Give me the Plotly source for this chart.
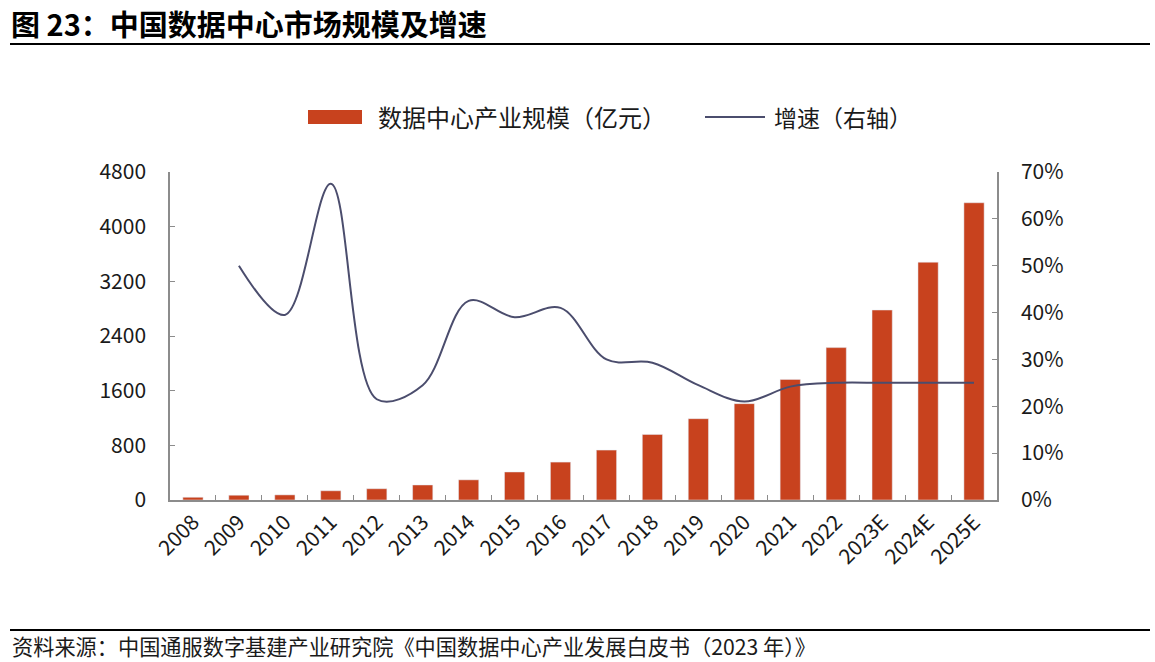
import plotly.graph_objects as go

years = ["2008", "2009", "2010", "2011", "2012", "2013", "2014", "2015", "2016",
         "2017", "2018", "2019", "2020", "2021", "2022", "2023E", "2024E", "2025E"]
market_size = [40, 70, 75, 135, 165, 220, 295, 410, 555,
               730, 960, 1190, 1410, 1765, 2230, 2780, 3480, 4350]
growth_years = years[1:]
growth = [0.50, 0.395, 0.675, 0.215, 0.245, 0.425, 0.39, 0.41,
          0.30, 0.293, 0.245, 0.21, 0.242, 0.25, 0.25, 0.25, 0.25]

left_ticks = [0, 800, 1600, 2400, 3200, 4000, 4800]
right_ticks = [0, 0.1, 0.2, 0.3, 0.4, 0.5, 0.6, 0.7]

title_text = "图 23：中国数据中心市场规模及增速"
legend_bar = "数据中心产业规模（亿元）"
legend_line = "增速（右轴）"
source_text = "资料来源：中国通服数字基建产业研究院《中国数据中心产业发展白皮书（2023 年）》"

BAR_COLOR = "#C8421E"
LINE_COLOR = "#4B4D6D"
AXIS_COLOR = "#8C8C8C"
TEXT_COLOR = "#1A1A1A"
CJK = "Noto Sans CJK SC"

W, H = 1155, 662
X0, X1, Y0, Y1 = 170, 997, 172, 500


def px(x):
    return (x - X0) / (X1 - X0)


def py(y):
    return (Y1 - y) / (Y1 - Y0)


fig = go.Figure()
fig.add_trace(go.Bar(x=years, y=market_size, marker_color=BAR_COLOR,
                     name=legend_bar, showlegend=False))
fig.add_trace(go.Scatter(x=growth_years, y=growth, yaxis="y2", mode="lines",
                         line=dict(color=LINE_COLOR, width=2, shape="spline", smoothing=1),
                         name=legend_line, showlegend=False))

fig.update_layout(
    width=W, height=H,
    margin=dict(l=X0, r=W - X1, t=Y0, b=H - Y1, autoexpand=False),
    paper_bgcolor="white", plot_bgcolor="white",
    bargap=0.56,
    font=dict(family=CJK, color=TEXT_COLOR, size=21),
    xaxis=dict(type="category", showline=True, linecolor=AXIS_COLOR, linewidth=1.5,
               ticks="inside", ticklen=5, tickcolor=AXIS_COLOR, tickson="boundaries",
               tickangle=-45, tickfont=dict(family=CJK, size=21, color=TEXT_COLOR),
               showgrid=False, zeroline=False),
    yaxis=dict(range=[0, 4800], tickvals=left_ticks, showline=True, linecolor=AXIS_COLOR,
               linewidth=1.5, ticks="inside", ticklen=5, tickcolor=AXIS_COLOR,
               showgrid=False, zeroline=False, ticklabelstandoff=18,
               tickfont=dict(family=CJK, size=21, color=TEXT_COLOR)),
    yaxis2=dict(range=[0, 0.7], tickvals=right_ticks, tickformat=".0%", overlaying="y",
                side="right", showline=True, linecolor=AXIS_COLOR, linewidth=1.5,
                ticks="inside", ticklen=5, tickcolor=AXIS_COLOR, showgrid=False,
                zeroline=False, ticklabelstandoff=18,
                tickfont=dict(family=CJK, size=21, color=TEXT_COLOR)),
    showlegend=False,
)

shapes = [
    dict(type="line", xref="paper", yref="paper", x0=px(10), x1=px(1150), y0=py(44), y1=py(44),
         line=dict(color="#000000", width=2)),
    dict(type="line", xref="paper", yref="paper", x0=px(10), x1=px(1150), y0=py(630), y1=py(630),
         line=dict(color="#000000", width=2)),
    dict(type="rect", xref="paper", yref="paper", x0=px(308), x1=px(362), y0=py(124), y1=py(110),
         fillcolor=BAR_COLOR, line=dict(width=0)),
    dict(type="line", xref="paper", yref="paper", x0=px(705), x1=px(765), y0=py(117), y1=py(117),
         line=dict(color=LINE_COLOR, width=2)),
]
annotations = [
    dict(text="<b>" + title_text + "</b>", xref="paper", yref="paper", x=px(10), y=py(23),
         xanchor="left", yanchor="middle", showarrow=False, borderpad=0,
         font=dict(family=CJK, size=29, color="#000000")),
    dict(text=legend_bar, xref="paper", yref="paper", x=px(376), y=py(117),
         xanchor="left", yanchor="middle", showarrow=False,
         font=dict(family=CJK, size=24, color=TEXT_COLOR)),
    dict(text=legend_line, xref="paper", yref="paper", x=px(772), y=py(117),
         xanchor="left", yanchor="middle", showarrow=False,
         font=dict(family=CJK, size=23, color=TEXT_COLOR)),
    dict(text=source_text, xref="paper", yref="paper", x=px(10), y=py(645),
         xanchor="left", yanchor="middle", showarrow=False,
         font=dict(family=CJK, size=21.2, color=TEXT_COLOR)),
]
fig.update_layout(shapes=shapes, annotations=annotations)

fig.write_html("out.html", config={"displayModeBar": False},
               post_script="document.body.style.margin='0';")
